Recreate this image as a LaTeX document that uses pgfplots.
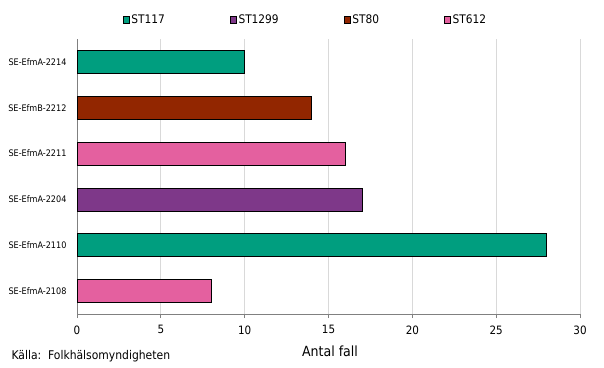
\documentclass[border=0pt]{standalone}
\usepackage{fontspec}
\setmainfont{DejaVu Sans Condensed}
\usepackage{pgfplots}
\pgfplotsset{compat=1.18}
\definecolor{cgreen}{RGB}{0,158,127}
\definecolor{cpurple}{RGB}{126,56,137}
\definecolor{cred}{RGB}{146,38,0}
\definecolor{cpink}{RGB}{228,96,159}
\definecolor{gridgray}{RGB}{217,217,217}
\definecolor{axisgray}{RGB}{128,128,128}
\pgfplotsset{
  mybar/.style={fill=#1, draw=black, line width=0.8pt, bar shift=0pt,
    legend image code/.code={\draw[fill=#1,draw=black,line width=0.6pt] (0pt,-3.5pt) rectangle (6pt,3.5pt);}},
}
\begin{document}
\begin{tikzpicture}[x=1pt,y=1pt]
\useasboundingbox (0,0) rectangle (604,367);
\begin{axis}[
  at={(77pt,53pt)}, anchor=south west, scale only axis,
  width=503pt, height=275pt,
  xbar, bar width=23pt,
  xmin=0, xmax=30, ymin=-0.5, ymax=5.5,
  xtick={0,5,...,30}, ytick={0,...,5},
  yticklabels={SE-EfmA-2108,SE-EfmA-2110,SE-EfmA-2204,SE-EfmA-2211,SE-EfmB-2212,SE-EfmA-2214},
  axis x line*=bottom, axis y line*=left,
  axis line style={color=axisgray, line width=0.8pt, -},
  xmajorgrids, grid style={color=gridgray, line width=0.8pt},
  xtick align=outside, major tick length=4pt,
  xtick style={color=axisgray, line width=0.8pt},
  ytick style={draw=none},
  /pgf/number format/assume math mode=true,
  xticklabel style={font=\fontsize{11.5}{13}\selectfont, yshift=-4pt},
  yticklabel style={font=\fontsize{9}{11}\selectfont, xshift=-3pt},
  xlabel={Antal fall},
  xlabel style={font=\fontsize{14}{16}\selectfont, at={(axis description cs:0.5,0)}, anchor=center, yshift=-37pt, xshift=1.5pt},
  legend columns=4,
  legend style={at={(axis description cs:0.5,1)}, anchor=south, xshift=-23pt, yshift=10pt,
    draw=none, font=\fontsize{11.8}{13}\selectfont,
    /tikz/every even column/.append style={column sep=63pt}},
]
\addplot[mybar=cgreen] coordinates {(10,5) (28,1)};
\addlegendentry{ST117}
\addplot[mybar=cpurple] coordinates {(17,2)};
\addlegendentry{ST1299}
\addplot[mybar=cred] coordinates {(14,4)};
\addlegendentry{ST80}
\addplot[mybar=cpink] coordinates {(16,3) (8,0)};
\addlegendentry{ST612}
\end{axis}
\node[anchor=west, font=\fontsize{12}{14}\selectfont] at (8,11) {Källa:\ \ Folkhälsomyndigheten};
\end{tikzpicture}
\end{document}
